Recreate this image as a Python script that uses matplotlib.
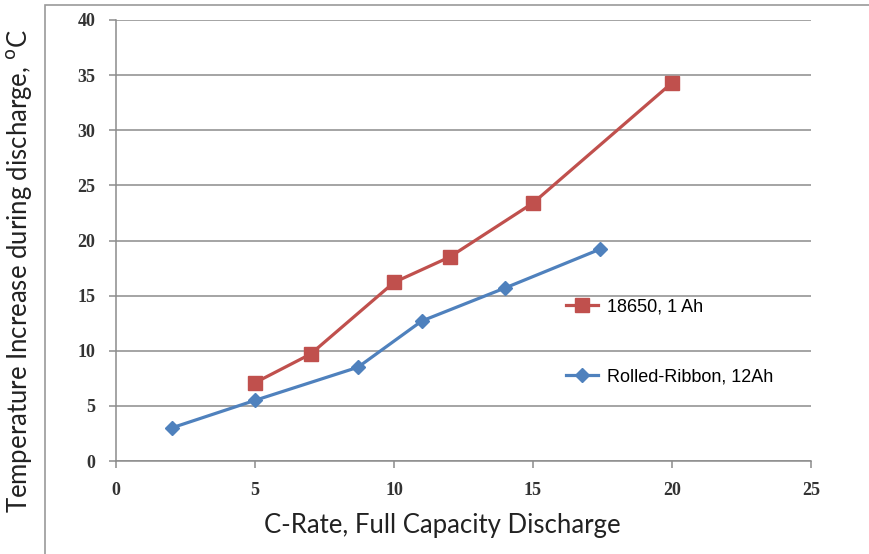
import matplotlib
matplotlib.use("Agg")
import matplotlib.pyplot as plt
from matplotlib.patches import Rectangle

# data
red_x = [5, 7, 10, 12, 15, 20]
red_y = [7.1, 9.7, 16.2, 18.5, 23.4, 34.3]
blue_x = [2, 5, 8.7, 11, 14, 17.4]
blue_y = [3.0, 5.5, 8.5, 12.7, 15.7, 19.2]
red_label = "18650, 1 Ah"
blue_label = "Rolled-Ribbon, 12Ah"
x_ticks = [0, 5, 10, 15, 20, 25]
y_ticks = [0, 5, 10, 15, 20, 25, 30, 35, 40]

label_font = ["Lato", "DejaVu Sans"]
tick_font = ["Liberation Serif", "DejaVu Serif"]
legend_font = ["Liberation Sans Narrow", "Liberation Sans", "DejaVu Sans"]

fig = plt.figure(figsize=(8.69, 5.54), dpi=100)
fig.patches.append(Rectangle((45 / 869, -0.01), 1.0, 1 - 5 / 554 + 0.01,
                             transform=fig.transFigure, fill=False,
                             edgecolor="#9a9a9a", linewidth=1.2))
ax = fig.add_axes([116 / 869, 1 - 461 / 554, (811 - 116) / 869, (461 - 20) / 554])

ax.plot(red_x, red_y, color="#C0504D", linewidth=2.3, marker="s",
        markersize=10, label=red_label, zorder=3)
ax.plot(blue_x, blue_y, color="#4F81BD", linewidth=2.3, marker="D",
        markersize=7.5, label=blue_label, zorder=3)

ax.set_xlim(0, 25)
ax.set_ylim(0, 40)
ax.set_xticks(x_ticks)
ax.set_yticks(y_ticks)
ax.grid(axis="y", color="#8c8c8c", linewidth=1.1)
ax.set_axisbelow(True)
for s in ["top", "right"]:
    ax.spines[s].set_visible(False)
for s in ["left", "bottom"]:
    ax.spines[s].set_color("#8c8c8c")
    ax.spines[s].set_linewidth(1.1)
ax.tick_params(axis="both", colors="#8c8c8c", length=5, width=1.1,
               labelsize=13, labelcolor="#333333")
ax.tick_params(axis="x", pad=10)
ax.tick_params(axis="y", pad=10)
ax.set_xticklabels([str(t) for t in x_ticks], family=tick_font,
                   fontweight="bold", fontsize=13)
ax.set_yticklabels([str(t) for t in y_ticks], family=tick_font,
                   fontweight="bold", fontsize=13)

ax.set_xlabel("C-Rate, Full Capacity Discharge", family=label_font,
              fontsize=18.5, color="#222222")
ax.set_ylabel("Temperature Increase during discharge, $^{\\mathrm{o}}$C",
              family=label_font, fontsize=18.5, color="#222222")
ax.xaxis.set_label_coords(0.47, -0.118)
ax.yaxis.set_label_coords(-0.118, 0.43)

ax.legend(loc="center left", bbox_to_anchor=(0.624, 0.27), frameon=False,
          handlelength=1.8, handletextpad=0.45, labelspacing=2.9,
          prop={"family": legend_font, "size": 13})

fig.savefig("out.png", dpi=100)
